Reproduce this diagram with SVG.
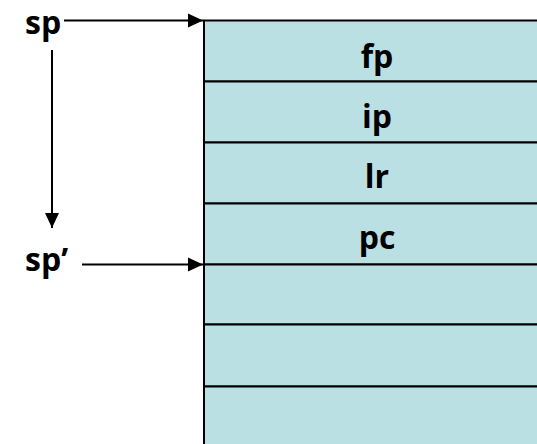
<svg xmlns="http://www.w3.org/2000/svg" width="537" height="444" viewBox="0 0 537 444">
<style>
.lbl{font-family:"Open Sans","Liberation Sans",sans-serif;font-weight:700;font-size:32px;fill:#000}
.cell{fill:#bbe0e3;stroke:#000;stroke-width:2}
.conn{stroke:#000;stroke-width:2;fill:none}
</style>
<defs>
<marker id="ah" markerUnits="userSpaceOnUse" markerWidth="16" markerHeight="16" viewBox="0 0 16 16" refX="15" refY="8" orient="auto">
<path d="M0,1 L15,8 L0,15 Z" fill="#000"/>
</marker>
</defs>
<rect x="0" y="0" width="537" height="444" fill="#fff"/>
<g id="stack">
<rect class="cell" x="204" y="20.5" width="340" height="61"/>
<rect class="cell" x="204" y="81.5" width="340" height="61"/>
<rect class="cell" x="204" y="142.5" width="340" height="61"/>
<rect class="cell" x="204" y="203.5" width="340" height="61"/>
<rect class="cell" x="204" y="264.5" width="340" height="60"/>
<rect class="cell" x="204" y="324.5" width="340" height="62"/>
<rect class="cell" x="204" y="386.5" width="340" height="70"/>
</g>
<g id="cell-fp"><text class="lbl" x="377" y="68" text-anchor="middle">fp</text></g>
<g id="cell-ip"><text class="lbl" x="377" y="128" text-anchor="middle">ip</text></g>
<g id="cell-lr"><text class="lbl" x="377" y="188" text-anchor="middle">lr</text></g>
<g id="cell-pc"><text class="lbl" x="377" y="249" text-anchor="middle">pc</text></g>
<g id="sp"><text class="lbl" x="25" y="34">sp</text></g>
<g id="sp-prime"><text class="lbl" x="25" y="271">sp’</text></g>
<g id="connectors">
<line class="conn" x1="64" y1="20.5" x2="203" y2="20.5" marker-end="url(#ah)"/>
<line class="conn" x1="52" y1="50" x2="52" y2="228" marker-end="url(#ah)"/>
<line class="conn" x1="82" y1="264.5" x2="203" y2="264.5" marker-end="url(#ah)"/>
</g>
</svg>
